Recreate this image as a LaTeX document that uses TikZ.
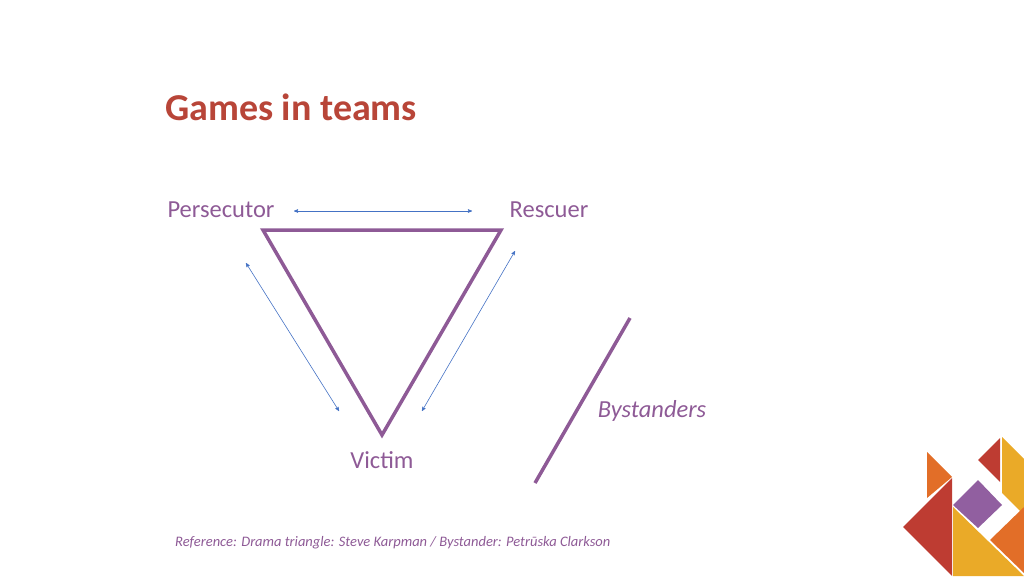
\documentclass[tikz,border=0pt]{standalone}
\usepackage{fontspec}
\setmainfont{Carlito}
\usetikzlibrary{arrows}
\definecolor{titlered}{RGB}{184,69,56}
\definecolor{rolepurple}{RGB}{142,90,150}
\definecolor{arrowblue}{RGB}{68,114,196}
\definecolor{logored}{RGB}{190,60,50}
\definecolor{logoorange}{RGB}{226,110,40}
\definecolor{logoyellow}{RGB}{234,170,40}
\definecolor{logopurple}{RGB}{145,95,160}
\tikzset{
    role/.style={text=rolepurple, font=\fontsize{24.5}{28}\selectfont},
    side/.style={draw=rolepurple, line width=3.5pt},
    swap/.style={draw=arrowblue, line width=0.6pt, <->, >=stealth'},
}
\begin{document}
\begin{tikzpicture}[x=1pt, y=-1pt]
\useasboundingbox (0,0) rectangle (1024,576);

\node[anchor=west, inner sep=0pt, text=titlered, font=\fontsize{38}{42}\selectfont\bfseries] (title) at (165,107) {Games in teams};

\node[role] (persecutor) at (221,210) {Persecutor};
\node[role] (rescuer) at (549,210) {Rescuer};
\node[role] (victim) at (382,460) {Victim};
\node[role, font=\fontsize{24.5}{28}\selectfont\itshape] (bystanders) at (652,411) {Bystanders};

% triangle
\coordinate (tl) at (263,230);
\coordinate (tr) at (501,230);
\coordinate (tb) at (382,435);
\draw[side, line join=miter] (tl) -- (tr) -- (tb) -- cycle;

% bystander line
\coordinate (b1) at (630,318);
\coordinate (b2) at (535,483);
\draw[side] (b1) -- (b2);

% switching arrows
\coordinate (a1) at (294,211);
\coordinate (a2) at (472,211);
\coordinate (a3) at (246,263);
\coordinate (a4) at (339,411);
\coordinate (a5) at (515,251);
\coordinate (a6) at (422,411);
\draw[swap] (a1) -- (a2);
\draw[swap] (a3) -- (a4);
\draw[swap] (a5) -- (a6);

\node[anchor=west, inner sep=0pt, text=rolepurple, font=\fontsize{14.5}{17}\selectfont\itshape] (ref) at (175,543) {Reference: Drama triangle: Steve Karpman / Bystander: Petrūska Clarkson};

% logo
\fill[logoorange] (927,452) -- (952,477) -- (927,498) -- cycle;
\fill[logored] (903,527) -- (952,478) -- (952,576) -- cycle;
\fill[logoyellow] (953,507) -- (953,576) -- (1024,576) -- cycle;
\fill[logopurple] (953,505) -- (978,480) -- (1002,505) -- (978,528) -- cycle;
\fill[logored] (978,460) -- (1000,438) -- (1000,482) -- cycle;
\fill[logoyellow] (1002,437) -- (1024,459) -- (1024,515) -- (1002,493) -- cycle;
\fill[logoorange] (990,540) -- (1024,507) -- (1024,573) -- cycle;
\end{tikzpicture}
\end{document}
